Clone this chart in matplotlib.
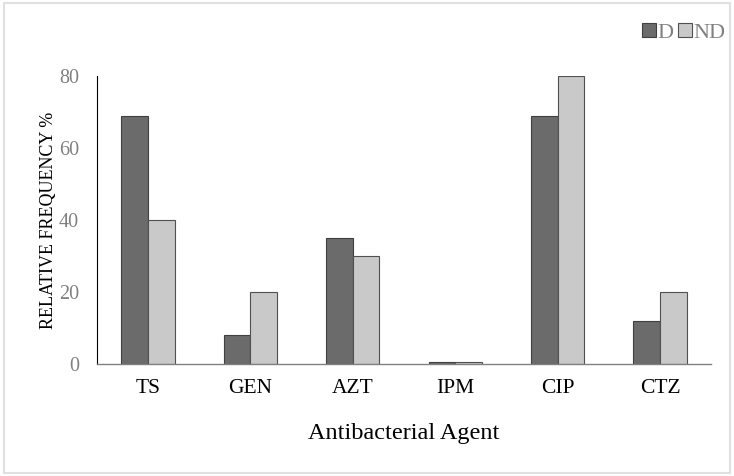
import matplotlib
matplotlib.use("Agg")
import matplotlib.pyplot as plt
import numpy as np
from matplotlib.patches import Rectangle

categories = ["TS", "GEN", "AZT", "IPM", "CIP", "CTZ"]
d_values = [69, 8, 35, 0.5, 69, 12]
nd_values = [40, 20, 30, 0.5, 80, 20]
y_ticks = [0, 20, 40, 60, 80]

plt.rcParams['font.family'] = ['Liberation Serif', 'DejaVu Serif']

fig = plt.figure(figsize=(7.34, 4.76), dpi=100)
fig.patches.append(Rectangle((0.006, 0.006), 0.988, 0.988, transform=fig.transFigure,
                             fill=False, edgecolor='#e0e0e0', linewidth=1.5))
ax = fig.add_axes([0.132, 0.235, 0.837, 0.605])

x = np.arange(len(categories))
w = 0.26
ax.bar(x - w / 2, d_values, w, color='#6b6b6b', edgecolor='#404040', linewidth=0.8, label='D')
ax.bar(x + w / 2, nd_values, w, color='#c9c9c9', edgecolor='#505050', linewidth=0.8, label='ND')

ax.set_xlim(-0.5, len(categories) - 0.5)
ax.set_ylim(0, 80)
ax.set_yticks(y_ticks)
ax.set_xticks(x)
ax.set_xticklabels(categories, fontsize=15.5)
ax.tick_params(axis='y', labelsize=14.5, labelcolor='#808080', length=0, pad=13)
ax.tick_params(axis='x', length=0, pad=11)
for s in ['top', 'right']:
    ax.spines[s].set_visible(False)
ax.spines['left'].set_color('#000000')
ax.spines['left'].set_linewidth(0.8)
ax.spines['bottom'].set_color('#808080')
ax.spines['bottom'].set_linewidth(1.0)

ax.set_xlabel("Antibacterial Agent", fontsize=17.5, labelpad=18)
ax.set_ylabel("RELATIVE FREQUENCY %", fontsize=13, labelpad=1)

leg = fig.legend(loc='upper right', bbox_to_anchor=(1.01, 0.985), ncol=2, frameon=False,
                 fontsize=16, handlelength=0.6, handleheight=0.6, handletextpad=0.1,
                 columnspacing=0.2, borderpad=0.2)
for t in leg.get_texts():
    t.set_color('#808080')

fig.savefig("out.png", dpi=100)
